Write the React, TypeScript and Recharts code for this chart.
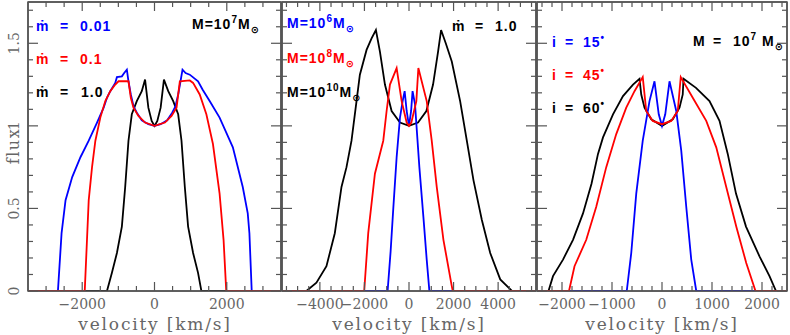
import React from "react";
import { LineChart, Line, XAxis, YAxis, ReferenceArea } from "recharts";

// left panel: M = 1e7 Msun, accretion rate varies
const p1Blue: [number, number][] = [
  [-3500, 0], [-2672, 0], [-2571, 0.35], [-2461, 0.55], [-2277, 0.69], [-2049, 0.81],
  [-1820, 0.91], [-1590, 1.02], [-1407, 1.11], [-1315, 1.17], [-1224, 1.21], [-1086, 1.26],
  [-1040, 1.295], [-903, 1.3], [-839, 1.32], [-765, 1.34], [-720, 1.27], [-655, 1.19],
  [-582, 1.12], [-490, 1.08], [-352, 1.034], [-170, 1.01], [0, 1.0], [170, 1.01],
  [352, 1.034], [490, 1.08], [582, 1.12], [655, 1.19], [720, 1.27], [775, 1.34],
  [860, 1.32], [976, 1.31], [1205, 1.27], [1329, 1.22], [1526, 1.15], [1801, 1.05],
  [2168, 0.87], [2442, 0.63], [2580, 0.47], [2626, 0.35], [2690, 0], [3500, 0],
];
const p1Red: [number, number][] = [
  [-3500, 0], [-1930, 0], [-1884, 0.23], [-1820, 0.55], [-1728, 0.75], [-1636, 0.91],
  [-1499, 1.05], [-1361, 1.15], [-1224, 1.21], [-1086, 1.25], [-995, 1.27], [-720, 1.27],
  [-655, 1.17], [-582, 1.11], [-445, 1.06], [-261, 1.02], [0, 1.0], [289, 1.02],
  [472, 1.06], [610, 1.11], [701, 1.27], [976, 1.275], [1068, 1.26], [1251, 1.19],
  [1435, 1.07], [1617, 0.89], [1801, 0.59], [1911, 0.31], [1985, 0], [3500, 0],
];
const p1Black: [number, number][] = [
  [-3500, 0], [-1315, 0], [-1178, 0.11], [-1040, 0.23], [-903, 0.39], [-811, 0.63],
  [-720, 0.91], [-628, 1.07], [-490, 1.15], [-352, 1.21], [-261, 1.28], [-170, 1.11],
  [-78, 1.03], [0, 1.0], [78, 1.03], [170, 1.11], [261, 1.28], [380, 1.21], [518, 1.15],
  [655, 1.07], [747, 0.91], [839, 0.63], [930, 0.39], [1068, 0.23], [1205, 0.11],
  [1297, 0], [3500, 0],
];

// middle panel: mdot = 1.0, black hole mass varies
const p2Blue: [number, number][] = [
  [-5700, 0], [-960, 0], [-825, 0.24], [-705, 0.5], [-555, 0.81], [-405, 1.05],
  [-285, 1.15], [-195, 1.21], [-105, 1.09], [0, 1.0], [95, 1.09], [160, 1.21],
  [270, 1.13], [465, 0.75], [645, 0.45], [795, 0.19], [915, 0], [5700, 0],
];
const p2Red: [number, number][] = [
  [-5700, 0], [-2010, 0], [-1830, 0.35], [-1530, 0.71], [-1155, 0.91], [-1005, 1.09],
  [-855, 1.25], [-555, 1.35], [-330, 1.15], [-105, 1.02], [0, 1.0], [105, 1.02],
  [330, 1.15], [420, 1.35], [795, 1.15], [1020, 0.91], [1245, 0.63], [1545, 0.31],
  [1920, 0.03], [1965, 0], [5700, 0],
];
const p2Black: [number, number][] = [
  [-5700, 0], [-4605, 0], [-4155, 0.05], [-3705, 0.15], [-3330, 0.35], [-3030, 0.63],
  [-2805, 0.75], [-2580, 0.91], [-2355, 1.15], [-2205, 1.31], [-1905, 1.46], [-1680, 1.53],
  [-1485, 1.58], [-1305, 1.45], [-1080, 1.25], [-780, 1.09], [-405, 1.02], [0, 1.0],
  [405, 1.02], [780, 1.09], [1080, 1.25], [1305, 1.45], [1440, 1.58], [1650, 1.5],
  [1920, 1.39], [2295, 1.15], [2595, 0.91], [2895, 0.67], [3270, 0.43], [3645, 0.23],
  [4095, 0.07], [4620, 0], [5700, 0],
];

// right panel: M = 1e7 Msun, inclination varies
const p3Blue: [number, number][] = [
  [-2500, 0], [-705, 0], [-615, 0.23], [-515, 0.59], [-385, 0.91], [-250, 1.15],
  [-150, 1.27], [-65, 1.07], [0, 1.0], [65, 1.07], [150, 1.27], [285, 1.09],
  [385, 0.85], [485, 0.51], [585, 0.19], [685, 0], [2500, 0],
];
const p3Red: [number, number][] = [
  [-2500, 0], [-1860, 0], [-1750, 0.15], [-1515, 0.31], [-1315, 0.51], [-1115, 0.75],
  [-915, 0.95], [-715, 1.11], [-550, 1.21], [-385, 1.295], [-315, 1.09], [-185, 1.03],
  [0, 1.01], [185, 1.03], [315, 1.09], [375, 1.295], [615, 1.17], [885, 1.03],
  [1085, 0.87], [1285, 0.63], [1485, 0.39], [1685, 0.17], [1870, 0], [2500, 0],
];
const p3Black: [number, number][] = [
  [-2500, 0], [-2270, 0], [-2180, 0.09], [-1980, 0.19], [-1780, 0.31], [-1580, 0.47],
  [-1410, 0.65], [-1280, 0.83], [-1180, 0.93], [-980, 1.07], [-780, 1.18], [-580, 1.25],
  [-450, 1.285], [-415, 1.19], [-350, 1.11], [-215, 1.04], [0, 1.0], [215, 1.04],
  [350, 1.11], [415, 1.19], [430, 1.285], [680, 1.23], [950, 1.15], [1150, 1.03],
  [1315, 0.83], [1480, 0.59], [1680, 0.39], [1950, 0.21], [2150, 0.09], [2280, 0],
  [2500, 0],
];

const p1XTicks = [-3000, -2500, -2000, -1500, -1000, -500, 0, 500, 1000, 1500, 2000, 2500, 3000];
const p1XLabels = [-2000, 0, 2000];
const p2XTicks = [
  -5500, -5000, -4500, -4000, -3500, -3000, -2500, -2000, -1500, -1000, -500, 0,
  500, 1000, 1500, 2000, 2500, 3000, 3500, 4000, 4500, 5000, 5500,
];
const p2XLabels = [-4000, -2000, 0, 2000, 4000];
const p3XTicks = [
  -2400, -2200, -2000, -1800, -1600, -1400, -1200, -1000, -800, -600, -400, -200, 0,
  200, 400, 600, 800, 1000, 1200, 1400, 1600, 1800, 2000, 2200, 2400,
];
const p3XLabels = [-2000, -1000, 0, 1000, 2000];
const yTicks = [0, 0.1, 0.2, 0.3, 0.4, 0.5, 0.6, 0.7, 0.8, 0.9, 1, 1.1, 1.2, 1.3, 1.4, 1.5, 1.6, 1.7];
const yLabels = [0, 0.5, 1, 1.5];
const yDomain: [number, number] = [0, 1.75];

const H = 335;
const AXIS = "#555";
const TICK_FONT = "'DejaVu Serif', serif";
const LEG_FONT = "'Liberation Sans', 'DejaVu Sans', sans-serif";
const BLUE = "#0000ff";
const RED = "#ff0000";

const toPts = (arr: [number, number][]) => arr.map(([v, f]) => ({ v, f }));
const fmt = (n: number) => (n < 0 ? "\u2212" + Math.abs(n) : String(n));

function BottomTick(props: any) {
  const { x, y, payload, labels } = props;
  const major = labels.includes(payload.value);
  return (
    <g>
      <line x1={x} x2={x} y1={y} y2={y - (major ? 9 : 5)} stroke={AXIS} strokeWidth={1.2} />
      {major && (
        <text x={x} y={y + 18} textAnchor="middle" fontFamily={TICK_FONT} fontSize={14} fill="#666">
          {fmt(payload.value)}
        </text>
      )}
    </g>
  );
}

function TopTick(props: any) {
  const { x, y, payload, labels } = props;
  const major = labels.includes(payload.value);
  return <line x1={x} x2={x} y1={y} y2={y + (major ? 9 : 5)} stroke={AXIS} strokeWidth={1.2} />;
}

function LeftTick(props: any) {
  const { x, y, payload, showLabel } = props;
  const major = yLabels.includes(payload.value);
  return (
    <g>
      <line x1={x} x2={x + (major ? 10 : 5)} y1={y} y2={y} stroke={AXIS} strokeWidth={1.2} />
      {showLabel && major && (
        <text
          x={19}
          y={y}
          transform={`rotate(-90 19 ${y})`}
          textAnchor="middle"
          fontFamily={TICK_FONT}
          fontSize={14}
          fill="#666"
        >
          {payload.value}
        </text>
      )}
    </g>
  );
}

function RightTick(props: any) {
  const { x, y, payload } = props;
  const major = yLabels.includes(payload.value);
  return <line x1={x} x2={x - (major ? 10 : 5)} y1={y} y2={y} stroke={AXIS} strokeWidth={1.2} />;
}

type Series = { data: [number, number][]; color: string };

function Panel({
  left,
  width,
  yWidth,
  domain,
  ticks,
  labels,
  series,
  showYLabels,
}: {
  left: number;
  width: number;
  yWidth: number;
  domain: [number, number];
  ticks: number[];
  labels: number[];
  series: Series[];
  showYLabels: boolean;
}) {
  const common = {
    type: "number" as const,
    allowDataOverflow: true,
    interval: 0 as const,
    tickSize: 0,
    tickMargin: 0,
    tickLine: false,
    stroke: AXIS,
    axisLine: { stroke: AXIS, strokeWidth: 1.5 },
  };
  const edge = toPts(series[0].data);
  return (
    <div style={{ position: "absolute", left, top: 0 }}>
      <LineChart width={width} height={H} margin={{ top: 1, right: 1, bottom: 0, left: 0 }}>
        <XAxis xAxisId="b" dataKey="v" domain={domain} ticks={ticks} height={44} tick={<BottomTick labels={labels} />} {...common} />
        <XAxis xAxisId="t" orientation="top" dataKey="v" domain={domain} ticks={ticks} height={1} tick={<TopTick labels={labels} />} {...common} />
        <YAxis yAxisId="l" domain={yDomain} ticks={yTicks} width={yWidth} tick={<LeftTick showLabel={showYLabels} />} {...common} />
        <YAxis yAxisId="r" orientation="right" domain={yDomain} ticks={yTicks} width={1} tick={<RightTick />} {...common} />
        <ReferenceArea
          xAxisId="b"
          yAxisId="l"
          x1={domain[0]}
          x2={domain[1]}
          y1={yDomain[0]}
          y2={yDomain[1]}
          fill="none"
          fillOpacity={0}
          stroke={AXIS}
          strokeWidth={1.5}
          ifOverflow="visible"
        />
        {/* invisible series so the top and right axes get drawn */}
        <Line xAxisId="t" yAxisId="r" data={edge} dataKey="f" stroke="none" dot={false} activeDot={false} isAnimationActive={false} />
        {series.map((s, i) => (
          <Line
            key={i}
            xAxisId="b"
            yAxisId="l"
            data={toPts(s.data)}
            dataKey="f"
            type="linear"
            stroke={s.color}
            strokeWidth={1.8}
            dot={false}
            activeDot={false}
            isAnimationActive={false}
          />
        ))}
      </LineChart>
    </div>
  );
}

function Sun() {
  return (
    <tspan fontSize={10} dy={4}>
      {"\u2299"}
    </tspan>
  );
}

export default function App() {
  const leg = { fontFamily: LEG_FONT, fontSize: 14, fontWeight: 700, letterSpacing: 1 } as const;
  const axTitle = { fontFamily: TICK_FONT, fontSize: 17, fill: "#666", letterSpacing: 1.8 } as const;
  return (
    <div style={{ position: "absolute", left: 0, top: 0, width: 790, height: H, background: "#fff" }}>
      <Panel
        left={0}
        width={283}
        yWidth={28}
        domain={[-3500, 3500]}
        ticks={p1XTicks}
        labels={p1XLabels}
        showYLabels
        series={[
          { data: p1Black, color: "#000" },
          { data: p1Blue, color: BLUE },
          { data: p1Red, color: RED },
        ]}
      />
      <Panel
        left={281}
        width={257}
        yWidth={1}
        domain={[-5700, 5700]}
        ticks={p2XTicks}
        labels={p2XLabels}
        showYLabels={false}
        series={[
          { data: p2Black, color: "#000" },
          { data: p2Blue, color: BLUE },
          { data: p2Red, color: RED },
        ]}
      />
      <Panel
        left={536}
        width={253}
        yWidth={1}
        domain={[-2500, 2500]}
        ticks={p3XTicks}
        labels={p3XLabels}
        showYLabels={false}
        series={[
          { data: p3Black, color: "#000" },
          { data: p3Blue, color: BLUE },
          { data: p3Red, color: RED },
        ]}
      />
      <svg
        width={790}
        height={H}
        style={{ position: "absolute", left: 0, top: 0, pointerEvents: "none" }}
      >
        <text x={19} y={146} transform="rotate(-90 19 146)" textAnchor="middle" {...axTitle} fontSize={16} letterSpacing={1.5}>
          flux
        </text>
        <text x={155} y={330} textAnchor="middle" {...axTitle}>velocity [km/s]</text>
        <text x={409} y={330} textAnchor="middle" {...axTitle}>velocity [km/s]</text>
        <text x={662} y={330} textAnchor="middle" {...axTitle}>velocity [km/s]</text>

        <g {...leg}>
          <text y={31} fill={BLUE}>
            <tspan x={36}>{"\u1E41"}</tspan>
            <tspan x={60}>=</tspan>
            <tspan x={80}>0.01</tspan>
          </text>
          <text y={64} fill={RED}>
            <tspan x={36}>{"\u1E41"}</tspan>
            <tspan x={60}>=</tspan>
            <tspan x={80}>0.1</tspan>
          </text>
          <text y={97} fill="#000">
            <tspan x={36}>{"\u1E41"}</tspan>
            <tspan x={60}>=</tspan>
            <tspan x={81}>1.0</tspan>
          </text>
          <text x={192} y={29} fill="#000">
            M=10<tspan fontSize={10} dy={-6}>7</tspan>
            <tspan dy={6}>M</tspan>
            <Sun />
          </text>

          <text x={287} y={28} fill={BLUE}>
            M=10<tspan fontSize={10} dy={-6}>6</tspan>
            <tspan dy={6}>M</tspan>
            <Sun />
          </text>
          <text x={287} y={63} fill={RED}>
            M=10<tspan fontSize={10} dy={-6}>8</tspan>
            <tspan dy={6}>M</tspan>
            <Sun />
          </text>
          <text x={287} y={97} fill="#000">
            M=10<tspan fontSize={10} dy={-6}>10</tspan>
            <tspan dy={6}>M</tspan>
            <Sun />
          </text>
          <text y={31} fill="#000">
            <tspan x={452}>{"\u1E41"}</tspan>
            <tspan x={475}>=</tspan>
            <tspan x={495}>1.0</tspan>
          </text>

          <text y={47} fill={BLUE}>
            <tspan x={552}>i</tspan>
            <tspan x={565}>=</tspan>
            <tspan x={583}>15</tspan>
            <tspan fontSize={10} dy={-6}>{"\u2022"}</tspan>
          </text>
          <text y={80} fill={RED}>
            <tspan x={552}>i</tspan>
            <tspan x={565}>=</tspan>
            <tspan x={583}>45</tspan>
            <tspan fontSize={10} dy={-6}>{"\u2022"}</tspan>
          </text>
          <text y={113} fill="#000">
            <tspan x={552}>i</tspan>
            <tspan x={565}>=</tspan>
            <tspan x={583}>60</tspan>
            <tspan fontSize={10} dy={-6}>{"\u2022"}</tspan>
          </text>
          <text y={46} fill="#000">
            <tspan x={693}>M</tspan>
            <tspan x={713}>=</tspan>
            <tspan x={733}>10</tspan>
            <tspan fontSize={10} dy={-6}>7</tspan>
            <tspan x={762} dy={6}>M</tspan>
            <Sun />
          </text>
        </g>
      </svg>
    </div>
  );
}
